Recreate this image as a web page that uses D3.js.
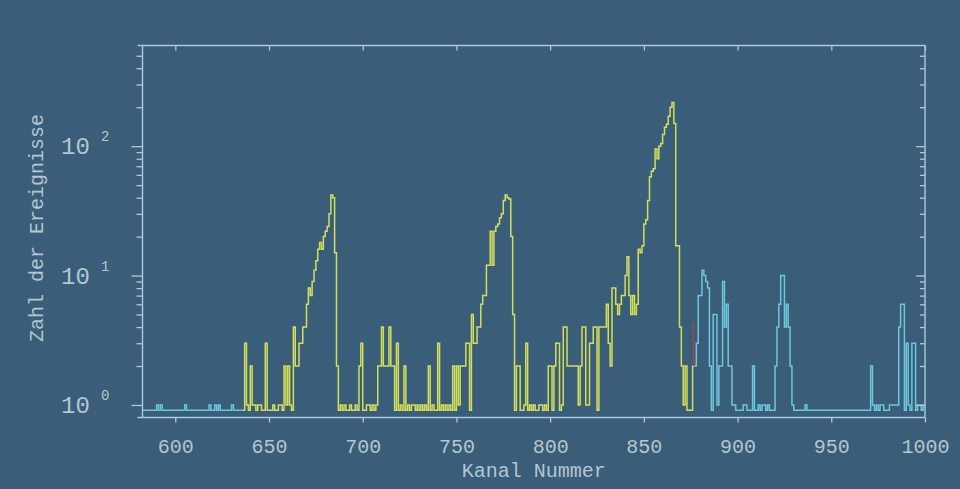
<!DOCTYPE html>
<html>
<head>
<meta charset="utf-8">
<script src="https://cdn.jsdelivr.net/npm/d3@7"></script>
<style>
  body { margin: 0; background: #3a5d7a; }
  svg { display: block; }
</style>
</head>
<body>
<script>
// spectrum counts per channel

// cyan part left of the region of interest, channels 582..635
var cyanLeftStart = 582;
var cyanLeft = [
  0,0,0,0,0,0,0,0,1,0,
  1,0,0,0,0,0,0,0,0,0,
  0,0,0,1,0,0,0,0,0,0,
  0,0,0,0,0,0,1,0,0,1,
  0,1,0,0,0,0,0,0,1,0,
  0,0,0,0
];

// yellow region of interest, channels 636..876
var roiStart = 636;
var roi = [
  0,3,1,0,2,1,1,0,1,1,
  0,0,3,0,0,0,1,0,0,1,
  1,0,2,1,2,1,0,4,2,2,
  3,3,4,4,6,8,7,9,11,13,
  16,18,16,20,22,24,30,42,40,15,
  2,0,1,0,1,0,0,1,0,0,
  1,0,2,3,0,0,1,1,0,1,
  0,1,2,2,4,2,2,2,4,2,
  2,0,3,0,1,0,2,0,1,0,
  1,1,0,1,0,1,0,1,0,2,
  0,1,0,0,3,0,1,0,1,0,
  1,0,2,0,2,1,2,2,2,3,
  3,0,5,3,3,4,4,6,7,7,
  12,12,22,12,22,24,25,28,30,38,
  42,40,39,20,5,0,2,2,0,0,
  1,3,0,1,0,1,0,0,1,1,
  0,1,0,2,2,0,2,3,3,0,
  1,4,4,2,2,2,2,2,2,1,
  2,4,4,1,1,3,3,4,4,0,
  4,4,4,4,6,3,2,8,8,6,
  5,6,7,7,10,14,7,5,7,5,
  6,16,15,17,25,27,38,58,64,67,
  95,80,100,105,123,140,148,170,200,218,
  150,17,17,4,2,1,2,0,0,0,
  2
];

// cyan part right of the region of interest, channels 877..999
var cyanRightStart = 877;
var cyanRight = [
  2,3,7,7,11,10,9,8,2,0,
  5,5,1,2,2,9,4,6,2,2,
  1,1,0,0,0,0,1,1,0,0,
  0,2,0,0,1,0,1,1,0,1,
  0,0,0,2,4,6,10,10,4,6,
  4,2,1,0,0,0,0,0,0,1,
  0,0,0,0,0,0,0,0,0,0,
  0,0,0,0,0,0,0,0,0,0,
  0,0,0,0,0,0,0,0,0,0,
  0,0,0,0,2,1,0,1,0,1,
  1,0,0,0,1,1,1,1,1,4,
  6,6,0,3,1,0,3,3,0,1,
  1,0,1
];

// small red marker at the end of the region
var markerChannel = 877;
var markerFrom = 2;
var markerTo = 4.3;

var xTicks = [600, 650, 700, 750, 800, 850, 900, 950, 1000];
var yMajor = [1, 10, 100];
var yMinor = [2,3,4,5,6,7,8,9, 20,30,40,50,60,70,80,90, 200,300,400,500];
var zeroLevel = 0.91; // empty channels sit just under 10^0

var width = 960, height = 489;
var plotLeft = 142.5, plotRight = 925, plotTop = 45.5, plotBottom = 417.5;

var frameColour = "#a9cbdc";
var textColour = "#b4c6ce";
var font = "'Liberation Mono', 'DejaVu Sans Mono', monospace";

var svg = d3.select("body")
    .append("svg")
    .attr("width", width)
    .attr("height", height);

svg.append("rect")
    .attr("width", width)
    .attr("height", height)
    .attr("fill", "#3a5d7a");

var x = d3.scaleLinear()
    .domain([582.5, 1000])
    .range([plotLeft, plotRight]);

var y = d3.scaleLog()
    .domain([0.8, 600])
    .range([plotBottom, plotTop]);

svg.append("clipPath")
    .attr("id", "plotclip")
    .append("rect")
    .attr("x", plotLeft)
    .attr("y", plotTop)
    .attr("width", plotRight - plotLeft)
    .attr("height", plotBottom - plotTop);

// turn a list of counts into step points
function toSteps(start, counts) {
    var pts = counts.map((c, i) => ({ch: start + i, v: c > 0 ? c : zeroLevel}));
    pts.push({ch: start + counts.length, v: pts[pts.length - 1].v});
    return pts;
}

var step = d3.line()
    .curve(d3.curveStepAfter)
    .x((d) => x(d.ch))
    .y((d) => y(d.v));

var plot = svg.append("g").attr("clip-path", "url(#plotclip)");

var series = [
    {pts: toSteps(cyanLeftStart, cyanLeft), colour: "#6ec6da"},
    {pts: toSteps(cyanRightStart, cyanRight), colour: "#6ec6da"},
    {pts: toSteps(roiStart, roi), colour: "#d3df58"}
];

series.forEach((s) => {
    plot.append("path")
        .datum(s.pts)
        .attr("d", step)
        .attr("fill", "none")
        .attr("stroke", s.colour)
        .attr("stroke-width", 1.5);
});

plot.append("line")
    .attr("x1", x(markerChannel) - 1)
    .attr("x2", x(markerChannel) - 1)
    .attr("y1", y(markerFrom))
    .attr("y2", y(markerTo))
    .attr("stroke", "#a8404e")
    .attr("stroke-width", 1.5);

// axes
function styleAxis(g) {
    g.select(".domain").remove();
    g.selectAll("line").attr("stroke", frameColour).attr("stroke-width", 1.3);
}

// bottom: outward ticks with labels
svg.append("g")
    .attr("transform", "translate(0," + plotBottom + ")")
    .call(d3.axisBottom(x).tickValues(xTicks).tickSize(5).tickSizeOuter(0).tickPadding(16).tickFormat(d3.format("d")))
    .call(styleAxis)
    .call((g) => g.selectAll("text")
        .attr("fill", textColour)
        .style("font-family", font)
        .style("font-size", "20px"));

// top: inward ticks, no labels
svg.append("g")
    .attr("transform", "translate(0," + plotTop + ")")
    .call(d3.axisTop(x).tickValues(xTicks).tickSize(-5).tickSizeOuter(0).tickFormat(""))
    .call(styleAxis);

// left: outward
svg.append("g")
    .attr("transform", "translate(" + plotLeft + ",0)")
    .call(d3.axisLeft(y).tickValues(yMajor).tickSize(11).tickSizeOuter(0).tickFormat(""))
    .call(styleAxis);
svg.append("g")
    .attr("transform", "translate(" + plotLeft + ",0)")
    .call(d3.axisLeft(y).tickValues(yMinor).tickSize(6).tickSizeOuter(0).tickFormat(""))
    .call(styleAxis);

// right: inward
svg.append("g")
    .attr("transform", "translate(" + plotRight + ",0)")
    .call(d3.axisRight(y).tickValues(yMajor).tickSize(-9).tickSizeOuter(0).tickFormat(""))
    .call(styleAxis);
svg.append("g")
    .attr("transform", "translate(" + plotRight + ",0)")
    .call(d3.axisRight(y).tickValues(yMinor).tickSize(-5).tickSizeOuter(0).tickFormat(""))
    .call(styleAxis);

// frame
var frame = svg.append("g")
    .attr("stroke", frameColour)
    .attr("stroke-width", 1.4)
    .attr("fill", "none");
frame.append("line").attr("x1", plotLeft - 5).attr("x2", plotRight).attr("y1", plotTop).attr("y2", plotTop);
frame.append("line").attr("x1", plotLeft - 5).attr("x2", plotRight).attr("y1", plotBottom).attr("y2", plotBottom);
frame.append("line").attr("x1", plotLeft).attr("x2", plotLeft).attr("y1", plotTop).attr("y2", plotBottom);
frame.append("line").attr("x1", plotRight).attr("x2", plotRight).attr("y1", plotTop).attr("y2", plotBottom);

// y labels as 10 with exponent
var yLabels = svg.append("g")
    .attr("fill", textColour)
    .style("font-family", font);
yMajor.forEach((v) => {
    var yy = y(v);
    yLabels.append("text")
        .attr("x", 61)
        .attr("y", yy + 8)
        .style("font-size", "24px")
        .text("10");
    yLabels.append("text")
        .attr("x", 101)
        .attr("y", yy - 5)
        .style("font-size", "14px")
        .text(Math.round(Math.log10(v)));
});

// titles
svg.append("text")
    .attr("x", (plotLeft + plotRight) / 2)
    .attr("y", 477)
    .attr("text-anchor", "middle")
    .attr("fill", textColour)
    .style("font-family", font)
    .style("font-size", "20px")
    .text("Kanal Nummer");

svg.append("text")
    .attr("transform", "translate(43," + 228 + ") rotate(-90)")
    .attr("text-anchor", "middle")
    .attr("fill", textColour)
    .style("font-family", font)
    .style("font-size", "20px")
    .text("Zahl der Ereignisse");
</script>
</body>
</html>
